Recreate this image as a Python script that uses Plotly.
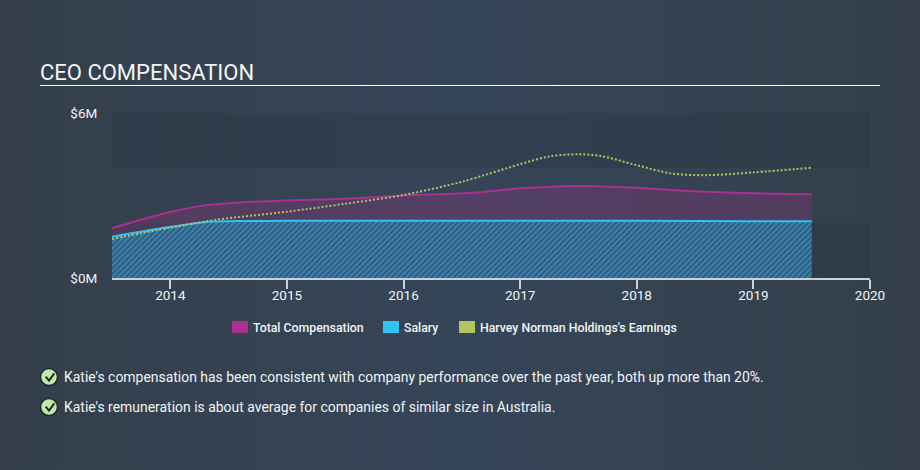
import base64
import plotly.graph_objects as go

W, H = 920, 470

# values, x in fractional years, y in $M
comp_years = [2013.5, 2014.0, 2014.31, 2014.6, 2015.0, 2015.5, 2016.0, 2016.6, 2017.0, 2017.5, 2018.0, 2018.4, 2019.0, 2019.5]
total_comp = [1.82, 2.40, 2.65, 2.75, 2.82, 2.88, 3.00, 3.10, 3.26, 3.35, 3.28, 3.17, 3.08, 3.05]

salary_years = [2013.5, 2014.0, 2014.31, 2014.6, 2015.0, 2016.0, 2017.0, 2018.0, 2019.0, 2019.5]
salary = [1.50, 1.86, 2.04, 2.07, 2.08, 2.08, 2.08, 2.08, 2.06, 2.06]

earn_years = [2013.5, 2014.0, 2014.4, 2015.0, 2015.5, 2016.0, 2016.5, 2017.0, 2017.25, 2017.5, 2017.7, 2018.0, 2018.3, 2018.6, 2019.0, 2019.5]
earnings = [1.42, 1.83, 2.12, 2.41, 2.70, 3.02, 3.50, 4.14, 4.42, 4.50, 4.43, 4.10, 3.80, 3.74, 3.84, 4.01]

year_ticks = [2014, 2015, 2016, 2017, 2018, 2019, 2020]
money_ticks = [0, 6]
money_labels = ["$0M", "$6M"]

legend_names = ["Total Compensation", "Salary", "Harvey Norman Holdings's Earnings"]
legend_colors = ["#a9318f", "#2fc2f2", "#b5c462"]
notes = [
    "Katie's compensation has been consistent with company performance over the past year, both up more than 20%.",
    "Katie's remuneration is about average for companies of similar size in Australia.",
]

BAND = "rgba(36,50,62,0.3)"
TEXT = "#f2f4f5"
FONT = "Roboto"


def px(x):
    return x / W


def py(y):
    return 1 - y / H


# page background: left-centre-right gradient
bg_svg = (
    f'<svg xmlns="http://www.w3.org/2000/svg" width="{W}" height="{H}">'
    '<defs><linearGradient id="g" x1="0" x2="1" y1="0" y2="0">'
    '<stop offset="0" stop-color="#343f4b"/><stop offset="0.5" stop-color="#354558"/>'
    '<stop offset="1" stop-color="#343f4b"/></linearGradient></defs>'
    f'<rect width="{W}" height="{H}" fill="url(#g)"/></svg>'
)
bg_uri = "data:image/svg+xml;base64," + base64.b64encode(bg_svg.encode()).decode()

fig = go.Figure()

fig.add_layout_image(dict(
    source=bg_uri, xref="paper", yref="paper", x=0, y=1, sizex=1, sizey=1,
    xanchor="left", yanchor="top", sizing="stretch", layer="below",
))

fig.add_trace(go.Scatter(
    x=comp_years, y=total_comp, mode="lines", name=legend_names[0],
    line=dict(color=legend_colors[0], width=2, shape="spline", smoothing=0.7),
    fill="tozeroy", fillcolor="rgba(169,49,143,0.26)",
))
fig.add_trace(go.Scatter(
    x=salary_years, y=salary, mode="lines", name=legend_names[1],
    line=dict(color=legend_colors[1], width=2, shape="spline", smoothing=0.5),
    fill="tozeroy",
    fillpattern=dict(shape="/", size=4, solidity=0.75, fgcolor="#44c4f8", bgcolor="#2c3c5c"),
))
fig.add_trace(go.Scatter(
    x=earn_years, y=earnings, mode="lines", name=legend_names[2],
    line=dict(color=legend_colors[2], width=2, shape="spline", smoothing=0.9, dash="2px,2px"),
))

shapes = [
    # background bands
    dict(type="rect", xref="x", yref="y", x0=2013.5, x1=2020, y0=0, y1=2, fillcolor=BAND, line_width=0, layer="below"),
    dict(type="rect", xref="x", yref="y", x0=2013.5, x1=2020, y0=4, y1=6, fillcolor=BAND, line_width=0, layer="below"),
    # rule under the title
    dict(type="line", xref="paper", yref="paper", x0=px(40), x1=px(880), y0=py(85.5), y1=py(85.5),
         line=dict(color="#ffffff", width=1)),
]

annotations = [
    dict(text="CEO COMPENSATION", xref="paper", yref="paper", x=px(38), y=py(72), xanchor="left", yanchor="middle",
         showarrow=False, font=dict(family=FONT, size=22, color=TEXT)),
]

swatch_x = [232, 383, 459]
for name, color, sx in zip(legend_names, legend_colors, swatch_x):
    shapes.append(dict(type="rect", xref="paper", yref="paper", x0=px(sx), x1=px(sx + 16), y0=py(333), y1=py(321),
                       fillcolor=color, line_width=0))
    annotations.append(dict(text=name, xref="paper", yref="paper", x=px(sx + 19), y=py(327.5), xanchor="left",
                            yanchor="middle", showarrow=False,
                            font=dict(family=FONT, size=12.3, color=TEXT, weight=500)))

for note, cy in zip(notes, [377, 407]):
    shapes.append(dict(type="circle", xref="paper", yref="paper", x0=px(40.5), x1=px(57.5), y0=py(cy + 8.5), y1=py(cy - 8.5),
                       fillcolor="#c4e9a6", line=dict(color="#1d2833", width=1.5)))
    shapes.append(dict(type="path", xref="paper", yref="paper",
                       path=f"M {px(45.7)} {py(cy - 0.3)} L {px(49)} {py(cy + 3.7)} L {px(54.3)} {py(cy - 3.7)}",
                       line=dict(color="#1d2833", width=2)))
    annotations.append(dict(text=note, xref="paper", yref="paper", x=px(62), y=py(cy), xanchor="left", yanchor="middle",
                            showarrow=False, font=dict(family=FONT, size=13.95, color=TEXT)))

fig.update_layout(
    width=W,
    height=H,
    autosize=False,
    margin=dict(l=0, r=0, t=0, b=0),
    paper_bgcolor="rgba(0,0,0,0)",
    plot_bgcolor="rgba(0,0,0,0)",
    showlegend=False,
    shapes=shapes,
    annotations=annotations,
    font=dict(family=FONT, size=12, color=TEXT),
    xaxis=dict(
        domain=[px(112), px(870)], range=[2013.5, 2020], tickvals=year_ticks, ticktext=[str(y) for y in year_ticks],
        automargin=False,
        showgrid=False, zeroline=False, showline=True, linecolor="#c9d1d9", linewidth=1.5,
        ticks="outside", ticklen=9, tickcolor="#c9d1d9", tickwidth=1.5, ticklabelstandoff=-5,
        tickfont=dict(family=FONT, size=13.5, color=TEXT),
    ),
    yaxis=dict(
        domain=[py(278), py(113)], range=[0, 6], tickvals=money_ticks, ticktext=money_labels,
        automargin=False,
        showgrid=False, zeroline=False, showline=False,
        ticks="outside", ticklen=11, tickcolor="rgba(0,0,0,0)",
        tickfont=dict(family=FONT, size=13.5, color=TEXT),
    ),
)

fig.write_html("out.html", config=dict(displayModeBar=False), post_script="document.body.style.margin='0';")
